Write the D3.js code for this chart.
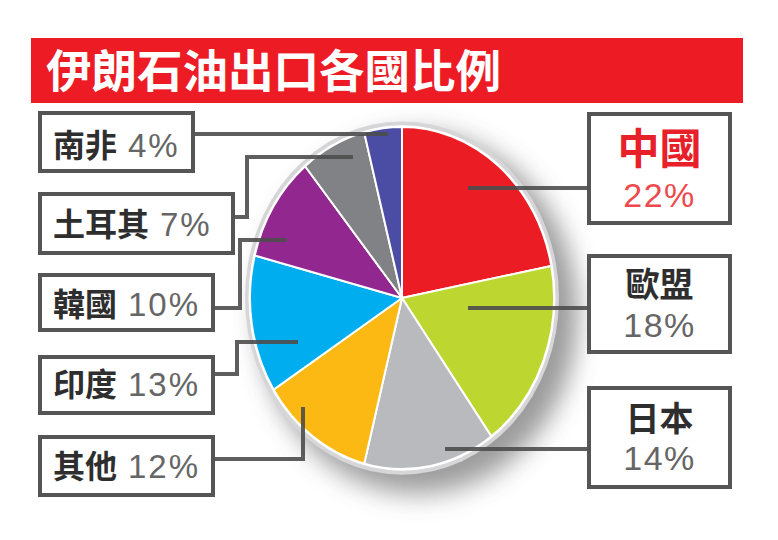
<!DOCTYPE html>
<html><head><meta charset="utf-8">
<script src="https://cdn.jsdelivr.net/npm/d3@7/dist/d3.min.js"></script>
<style>
html,body{margin:0;padding:0;background:#fff;}
svg{display:block;}
</style></head>
<body>
<svg id="c" width="778" height="540"></svg>
<script>
// ---- data ----
const title = "伊朗石油出口各國比例";
const countries = ["中國","歐盟","日本","其他","印度","韓國","土耳其","南非"];
const shares = [22,18,14,12,13,10,7,4];
const colors = ["#ec1c24","#bdd630","#b9babd","#fdb913","#00aeef","#92278f","#808285","#4b4ca3"];

// ---- layout (annotation geometry) ----
const cx = 402, cy = 298, rx = 152, ry = 171;
const boxes = [
  {side:"R", x:589, y:114, w:141, h:109, nameY:164, pctY:207, nameSize:42},
  {side:"R", x:589, y:256, w:141, h:96,  nameY:297, pctY:337, nameSize:34},
  {side:"R", x:589, y:388, w:141, h:99,  nameY:431, pctY:470, nameSize:34},
  {side:"L", x:40, y:437, w:173, h:58, nameY:478},
  {side:"L", x:40, y:357, w:173, h:56, nameY:396},
  {side:"L", x:40, y:275, w:173, h:55, nameY:316},
  {side:"L", x:40, y:194, w:193, h:59, nameY:236},
  {side:"L", x:40, y:113, w:153, h:58, nameY:157}
];
const leaders = [
  [[468,188],[589,188]],
  [[468,308],[589,308]],
  [[445,449],[589,449]],
  [[303,407],[303,459],[213,459]],
  [[298,342],[237,342],[237,374],[213,374]],
  [[287,240],[240,240],[240,308],[213,308]],
  [[353,157],[247,157],[247,217],[233,217]],
  [[388,134],[193,134]]
];

const svg = d3.select("#c");
const defs = svg.append("defs");
defs.append("filter").attr("id","sh").attr("x","-40%").attr("y","-40%").attr("width","180%").attr("height","180%")
  .append("feGaussianBlur").attr("stdDeviation",12);

// title bar
svg.append("rect").attr("x",31).attr("y",38).attr("width",712).attr("height",65).attr("fill","#ed1c24");
svg.append("text").attr("x",46).attr("y",88).text(title)
  .attr("font-family","'Noto Sans CJK TC','Noto Sans CJK SC',sans-serif").attr("font-weight","bold")
  .attr("font-size",45.5).attr("fill","#fff");

// pie
const pie = d3.pie().sort(null).value(d=>d);
const arcs = pie(shares);
const arc = d3.arc().innerRadius(0).outerRadius(rx);

const g = svg.append("g").attr("transform",`translate(${cx},${cy}) scale(1,${ry/rx})`);
g.append("circle").attr("cx",16).attr("cy",14).attr("r",rx+8).attr("fill","#8a8a8a").attr("opacity",0.85).attr("filter","url(#sh)");
g.append("circle").attr("r",rx+5).attr("fill","#d6d6d8");
g.append("circle").attr("r",rx+1.5).attr("fill","#fff");
g.selectAll("path.sl").data(arcs).join("path").attr("class","sl")
  .attr("d",arc).attr("fill",(d,i)=>colors[i])
  .attr("stroke","#fff").attr("stroke-width",2).attr("vector-effect","non-scaling-stroke");

// leaders
const line = d3.line();
svg.selectAll("path.ld").data(leaders).join("path").attr("class","ld")
  .attr("d",d=>line(d)).attr("fill","none").attr("stroke","#4d4d4d").attr("stroke-width",4).attr("opacity",0.9);

// boxes
svg.selectAll("rect.bx").data(boxes).join("rect").attr("class","bx")
  .attr("x",d=>d.x).attr("y",d=>d.y).attr("width",d=>d.w).attr("height",d=>d.h)
  .attr("fill","#fff").attr("stroke","#555").attr("stroke-width",4);

const cjk = "'Noto Sans CJK TC','Noto Sans CJK SC',sans-serif";
const lat = "'Liberation Sans',Arial,sans-serif";
boxes.forEach((b,i)=>{
  const isChina = i===0;
  if(b.side==="R"){
    const mx = b.x + b.w/2;
    svg.append("text").attr("x",mx).attr("y",b.nameY).attr("text-anchor","middle")
      .attr("font-family",cjk).attr("font-weight","bold").attr("font-size",b.nameSize)
      .attr("fill",isChina?"#e8202a":"#2e2e2e").text(countries[i]);
    svg.append("text").attr("x",mx).attr("y",b.pctY).attr("text-anchor","middle")
      .attr("font-family",lat).attr("font-size",34).attr("letter-spacing",1.5)
      .attr("fill",isChina?"#ee4a4e":"#666").text(shares[i]+"%");
  } else {
    const t = svg.append("text").attr("x",b.x+13).attr("y",b.nameY);
    t.append("tspan").attr("font-family",cjk).attr("font-weight","bold").attr("font-size",32)
      .attr("fill","#2e2e2e").text(countries[i]);
    t.append("tspan").attr("dx",11).attr("font-family",lat).attr("font-size",33).attr("letter-spacing",2)
      .attr("fill","#666").text(shares[i]+"%");
  }
});
</script>
</body></html>
